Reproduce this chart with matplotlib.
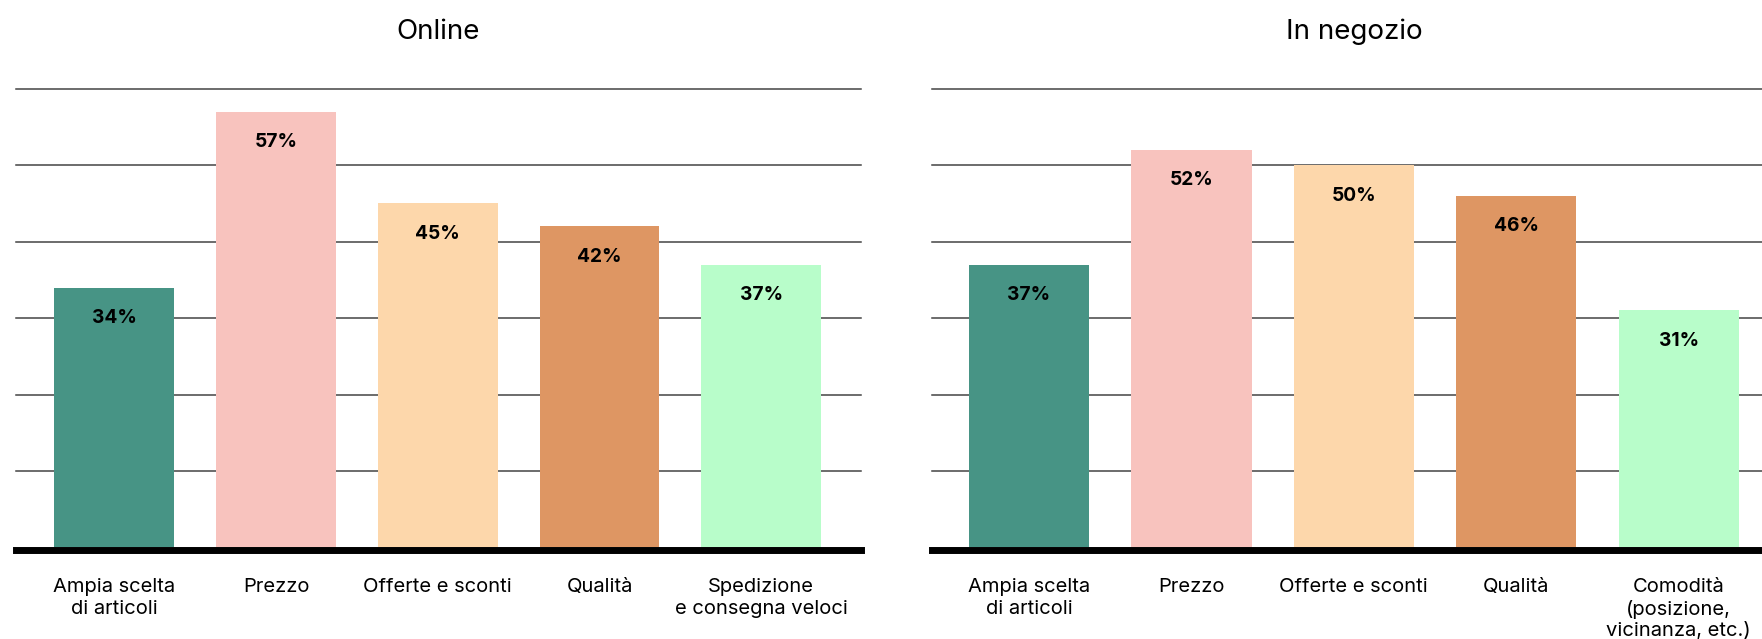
import matplotlib.pyplot as plt

plt.rcParams['font.family'] = ['Inter', 'DejaVu Sans']

# Data
online_labels = ["Ampia scelta\ndi articoli", "Prezzo", "Offerte e sconti", "Qualità",
                 "Spedizione\ne consegna veloci"]
online_values = [34, 57, 45, 42, 37]

store_labels = ["Ampia scelta\ndi articoli", "Prezzo", "Offerte e sconti", "Qualità",
                "Comodità\n(posizione,\nvicinanza, etc.)"]
store_values = [37, 52, 50, 46, 31]

bar_colors = ["#479485", "#F8C3BE", "#FDD7AB", "#DE9663", "#B8FDCA"]
grid_values = [10, 20, 30, 40, 50, 60]

fig = plt.figure(figsize=(17.62, 6.39), dpi=100)
ax1 = fig.add_axes([0.0089, 0.1432, 0.480, 0.718])
ax2 = fig.add_axes([0.5287, 0.1432, 0.4793, 0.718])


def draw_panel(ax, title, labels, values, xlim):
    x = range(len(values))
    for g in grid_values:
        ax.axhline(g, color="#444444", lw=1.1, zorder=0, clip_on=False)
    ax.bar(x, values, width=0.74, color=bar_colors, zorder=2)
    ax.axhline(-0.27, color="black", lw=5, zorder=3, clip_on=False)
    for xi, v in zip(x, values):
        ax.annotate(f"{v}%", (xi, v), xytext=(0, -22), textcoords="offset points",
                    ha="center", va="center", fontsize=13.8, fontweight="bold")
    ax.set_xlim(*xlim)
    ax.set_ylim(0, 60)
    ax.set_xticks(list(x))
    ax.set_xticklabels(labels, fontsize=14.5, linespacing=1.25)
    ax.tick_params(axis="x", length=0, pad=22)
    ax.set_yticks([])
    for s in ax.spines.values():
        s.set_visible(False)
    ax.set_title(title, fontsize=20, pad=36)


draw_panel(ax1, "Online", online_labels, online_values, (-0.61, 4.62))
draw_panel(ax2, "In negozio", store_labels, store_values, (-0.6, 4.6))

fig.savefig("out.png", dpi=100)
